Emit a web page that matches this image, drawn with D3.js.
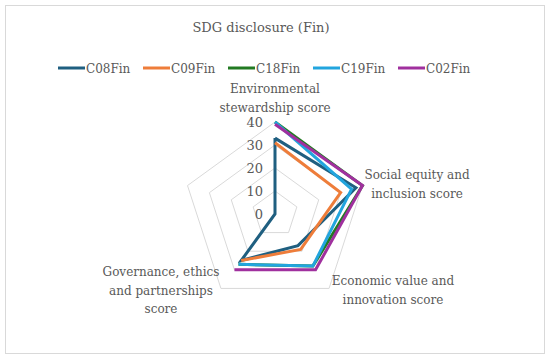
<!DOCTYPE html>
<html>
<head>
<meta charset="utf-8">
<script src="https://cdn.jsdelivr.net/npm/d3@7.9.0/dist/d3.min.js"></script>
<style>
  html, body { margin: 0; padding: 0; background: #fff; }
  svg text { fill: #595959; font-family: 'DejaVu Serif', serif; }
</style>
</head>
<body>
<svg id="chart" width="550" height="359"></svg>
<script>
// categories (the fifth axis has no label in the source)
const categories = [
  ['Environmental', 'stewardship score'],
  ['Social equity and', 'inclusion score'],
  ['Economic value and', 'innovation score'],
  ['Governance, ethics', 'and partnerships', 'score'],
  []
];
const ticks = [0, 10, 20, 30, 40];

const seriesNames = ['C08Fin', 'C09Fin', 'C18Fin', 'C19Fin', 'C02Fin'];
const seriesColors = ['#1f5f80', '#ee7d3a', '#227a22', '#22a5de', '#a0309e'];

// null = empty cell (gap)
const C08Fin = [33, 37, 17, 25, 0];
const C09Fin = [31, 30, 19, 25, null];
const C18Fin = [40, 40, 28, 27, null];
const C19Fin = [40, 35, 28, 27, null];
const C02Fin = [39, 40, 30, 30, null];
const seriesValues = [C08Fin, C09Fin, C18Fin, C19Fin, C02Fin];

const svg = d3.select('#chart');
const cx = 275, cy = 214, R = 92;

svg.append('rect')
  .attr('x', 5.5).attr('y', 5.5)
  .attr('width', 539).attr('height', 348)
  .attr('fill', '#fff').attr('stroke', '#d9d9d9');

svg.append('text')
  .attr('x', 261).attr('y', 32)
  .attr('text-anchor', 'middle')
  .attr('font-size', 13)
  .text('SDG disclosure (Fin)');

const r = d3.scaleLinear().domain([0, 40]).range([0, R]);
const angle = d3.scaleLinear().domain([0, categories.length]).range([0, 2 * Math.PI]);

function pt(i, v) {
  const a = angle(i) - Math.PI / 2;
  return [cx + r(v) * Math.cos(a), cy + r(v) * Math.sin(a)];
}

// grid rings
ticks.slice(1).forEach(t => {
  svg.append('path')
    .attr('d', d3.line()(categories.map((c, i) => pt(i, t))) + 'Z')
    .attr('fill', 'none')
    .attr('stroke', '#d9d9d9')
    .attr('stroke-width', 1);
});

// tick labels
ticks.forEach(t => {
  svg.append('text')
    .attr('x', cx - 12).attr('y', cy - r(t) + 5)
    .attr('text-anchor', 'end')
    .attr('font-size', 13)
    .text(t);
});

// category labels
const labelPos = [
  { x: 275, y: 93 },
  { x: 417, y: 179 },
  { x: 393, y: 285 },
  { x: 161, y: 276 },
  null
];
categories.forEach((lines, i) => {
  if (!labelPos[i]) return;
  lines.forEach((s, k) => {
    svg.append('text')
      .attr('x', labelPos[i].x)
      .attr('y', labelPos[i].y + k * 18.5)
      .attr('text-anchor', 'middle')
      .attr('font-size', 12)
      .text(s);
  });
});

// series lines
const line = d3.line().defined(d => d[2] !== null);
seriesValues.forEach((vals, s) => {
  const pts = vals.map((v, i) => [...pt(i, v === null ? 0 : v), v]);
  pts.push(pts[0]);
  svg.append('path')
    .attr('d', line(pts))
    .attr('fill', 'none')
    .attr('stroke', seriesColors[s])
    .attr('stroke-width', 3)
    .attr('stroke-linejoin', 'miter');
});

// legend
seriesNames.forEach((name, s) => {
  const x0 = 58 + s * 85;
  svg.append('line')
    .attr('x1', x0).attr('x2', x0 + 27)
    .attr('y1', 68).attr('y2', 68)
    .attr('stroke', seriesColors[s])
    .attr('stroke-width', 3);
  svg.append('text')
    .attr('x', x0 + 28).attr('y', 72.5)
    .attr('font-size', 12)
    .text(name);
});
</script>
</body>
</html>
